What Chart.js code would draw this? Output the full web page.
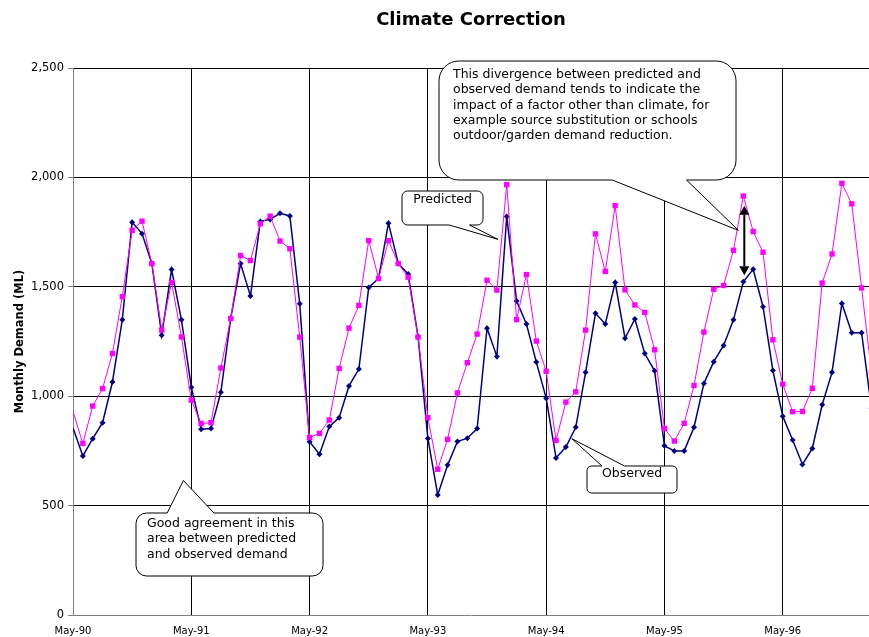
<!DOCTYPE html>
<html>
<head>
<meta charset="utf-8">
<title>Climate Correction</title>
<script src="https://cdn.jsdelivr.net/npm/chart.js@4/dist/chart.umd.min.js"></script>
<style>
  html, body { margin: 0; padding: 0; background: #fff; }
  #wrap { width: 869px; height: 637px; }
</style>
</head>
<body>
<div id="wrap"><canvas id="chart" width="869" height="637"></canvas></div>
<script>
// Month index 0 = May-90, one step per month
const tickMonths = [0, 12, 24, 36, 48, 60, 72];
const tickLabels = ['May-90', 'May-91', 'May-92', 'May-93', 'May-94', 'May-95', 'May-96'];

// Monthly demand (ML)
const observed = [
  855, 727, 806, 879, 1065, 1349, 1795, 1743, 1606, 1279, 1579, 1349,
  1041, 849, 852, 1018, 1356, 1606, 1458, 1799, 1808, 1836, 1824, 1423,
  792, 735, 861, 902, 1047, 1124, 1497, 1538, 1791, 1606, 1558, 1273,
  807, 549, 685, 793, 808, 852, 1311, 1182, 1821, 1435, 1330, 1156,
  991, 718, 768, 858, 1109, 1379, 1330, 1520, 1265, 1353, 1195, 1116,
  773, 750, 750, 858, 1058, 1158, 1232, 1349, 1523, 1580, 1409, 1117,
  908, 800, 688, 761, 961, 1109, 1424, 1290, 1290, 945
];
const predicted = [
  930, 784, 955, 1035, 1195, 1455, 1758, 1800, 1606, 1302, 1520, 1271,
  982, 875, 879, 1129, 1355, 1643, 1620, 1788, 1823, 1709, 1674, 1270,
  811, 830, 891, 1127, 1311, 1415, 1711, 1538, 1711, 1606, 1544, 1270,
  902, 666, 803, 1015, 1153, 1284, 1530, 1485, 1967, 1350, 1556, 1252,
  1114, 798, 973, 1020, 1302, 1742, 1570, 1871, 1486, 1417, 1383, 1212,
  852, 795, 876, 1049, 1293, 1489, 1506, 1667, 1915, 1753, 1658, 1258,
  1055, 929, 930, 1036, 1517, 1650, 1973, 1879, 1495, 1109
];

const FONT = '"DejaVu Sans", Verdana, sans-serif';

// Callout notes: box in canvas pixels, tip anchored in data units (month, ML)
const notes = [
  {
    lines: ['This divergence between predicted and',
            'observed demand tends to indicate the',
            'impact of a factor other than climate, for',
            'example source substitution or schools',
            'outdoor/garden demand reduction.'],
    box: [439, 61, 736, 180], tip: [67.5, 1758], align: 'left', pad: [14, 13.5]
  },
  { lines: ['Predicted'], box: [402, 191, 483, 225], tip: [43.1, 1717], align: 'center', pad: [0, 8.5] },
  { lines: ['Observed'], box: [587, 466, 677, 493], tip: [50.6, 806], align: 'center', pad: [0, 7.5] },
  {
    lines: ['Good agreement in this', 'area between predicted', 'and observed demand'],
    box: [136, 513, 323, 576], tip: [11.2, 615], align: 'left', pad: [11, 10.5]
  }
];

// Double-headed arrow marking the gap (month, from ML, to ML)
const gapArrow = { month: 68.1, from: 1871, to: 1553 };

function calloutPath(ctx, box, tip) {
  const [l, t, r, b] = box;
  const w = r - l, h = b - t;
  const rad = Math.min(w, h) / 6;
  const leftSide = tip.x < (l + r) / 2;
  const bx1 = l + w * (leftSide ? 2 : 7) / 12;
  const bx2 = l + w * (leftSide ? 5 : 10) / 12;
  const tailTop = tip.y < t;
  ctx.beginPath();
  ctx.moveTo(l + rad, t);
  if (tailTop) {
    ctx.lineTo(bx1, t);
    ctx.lineTo(tip.x, tip.y);
    ctx.lineTo(bx2, t);
  }
  ctx.lineTo(r - rad, t);
  ctx.arcTo(r, t, r, t + rad, rad);
  ctx.lineTo(r, b - rad);
  ctx.arcTo(r, b, r - rad, b, rad);
  if (!tailTop) {
    ctx.lineTo(bx2, b);
    ctx.lineTo(tip.x, tip.y);
    ctx.lineTo(bx1, b);
  }
  ctx.lineTo(l + rad, b);
  ctx.arcTo(l, b, l, b - rad, rad);
  ctx.lineTo(l, t + rad);
  ctx.arcTo(l, t, l + rad, t, rad);
  ctx.closePath();
}

const decorations = {
  id: 'decorations',
  afterDraw(chart) {
    const ctx = chart.ctx;
    const xs = chart.scales.x, ys = chart.scales.y;
    const area = chart.chartArea;
    ctx.save();

    // Title
    ctx.fillStyle = '#000';
    ctx.font = 'bold 18px ' + FONT;
    ctx.textAlign = 'center';
    ctx.textBaseline = 'middle';
    ctx.fillText('Climate Correction', (area.left + area.right) / 2, 20);

    // Gap arrow
    const ax = xs.getPixelForValue(gapArrow.month);
    const ay1 = ys.getPixelForValue(gapArrow.from);
    const ay2 = ys.getPixelForValue(gapArrow.to);
    const hl = 9, hw = 5;
    ctx.strokeStyle = '#000';
    ctx.lineWidth = 2;
    ctx.beginPath();
    ctx.moveTo(ax, ay1 + hl);
    ctx.lineTo(ax, ay2 - hl);
    ctx.stroke();
    ctx.fillStyle = '#000';
    ctx.beginPath();
    ctx.moveTo(ax, ay1); ctx.lineTo(ax - hw, ay1 + hl); ctx.lineTo(ax + hw, ay1 + hl); ctx.closePath();
    ctx.fill();
    ctx.beginPath();
    ctx.moveTo(ax, ay2); ctx.lineTo(ax - hw, ay2 - hl); ctx.lineTo(ax + hw, ay2 - hl); ctx.closePath();
    ctx.fill();

    // Callouts
    ctx.font = '12.5px ' + FONT;
    ctx.textBaseline = 'middle';
    for (const n of notes) {
      const tip = { x: xs.getPixelForValue(n.tip[0]), y: ys.getPixelForValue(n.tip[1]) };
      calloutPath(ctx, n.box, tip);
      ctx.fillStyle = '#fff';
      ctx.fill();
      ctx.strokeStyle = '#000';
      ctx.lineWidth = 1;
      ctx.stroke();
      ctx.fillStyle = '#000';
      const [l, t, r] = n.box;
      ctx.textAlign = n.align;
      const tx = n.align === 'left' ? l + n.pad[0] : (l + r) / 2;
      n.lines.forEach((s, i) => ctx.fillText(s, tx, t + n.pad[1] + i * 15.4));
    }
    ctx.restore();
  }
};

const toPoints = arr => arr.map((v, i) => ({ x: i, y: v }));

new Chart(document.getElementById('chart'), {
  type: 'line',
  data: {
    datasets: [
      {
        label: 'Predicted',
        data: toPoints(predicted),
        borderColor: '#FF00FF',
        backgroundColor: '#FF00FF',
        borderWidth: 1,
        pointStyle: 'rect',
        pointRadius: c => (c.dataIndex === 0 ? 0 : 3.8),
        pointBorderWidth: 0,
        tension: 0
      },
      {
        label: 'Observed',
        data: toPoints(observed),
        borderColor: '#000080',
        backgroundColor: '#000080',
        borderWidth: 1.5,
        pointStyle: 'rectRot',
        pointRadius: c => (c.dataIndex === 0 ? 0 : 3),
        pointBorderWidth: 0,
        tension: 0
      }
    ]
  },
  options: {
    responsive: false,
    animation: false,
    devicePixelRatio: 1,
    events: [],
    layout: { autoPadding: false, padding: { top: 68, left: 0, right: 0, bottom: 0 } },
    plugins: {
      legend: { display: false },
      tooltip: { enabled: false },
      title: { display: false }
    },
    scales: {
      x: {
        type: 'linear',
        min: 0,
        max: 80.75,
        afterBuildTicks: s => { s.ticks = tickMonths.map(v => ({ value: v })); },
        afterFit: s => { s.height = 22; },
        ticks: {
          callback: (v, i) => tickLabels[i],
          font: { family: FONT, size: 10 },
          color: '#000',
          maxRotation: 0,
          autoSkip: false,
          padding: 10
        },
        grid: {
          color: c => (c.tick && c.tick.value === 0 ? 'rgba(0,0,0,0)' : '#000'),
          lineWidth: 1,
          drawTicks: false
        },
        border: { color: '#808080', width: 1 }
      },
      y: {
        min: 0,
        max: 2500,
        afterFit: s => { s.width = 73; },
        ticks: {
          stepSize: 500,
          callback: v => v.toLocaleString('en-US'),
          font: { family: FONT, size: 11.5 },
          color: '#000',
          padding: 4
        },
        grid: {
          color: c => (c.tick && c.tick.value === 0 ? 'rgba(0,0,0,0)' : '#000'),
          tickColor: '#808080',
          tickLength: 5,
          lineWidth: 1
        },
        border: { color: '#808080', width: 1 },
        title: {
          display: true,
          text: 'Monthly Demand (ML)',
          color: '#000',
          font: { family: FONT, size: 11.5, weight: 'bold' },
          padding: { top: 13, bottom: 0 }
        }
      }
    }
  },
  plugins: [decorations]
});
</script>
</body>
</html>
